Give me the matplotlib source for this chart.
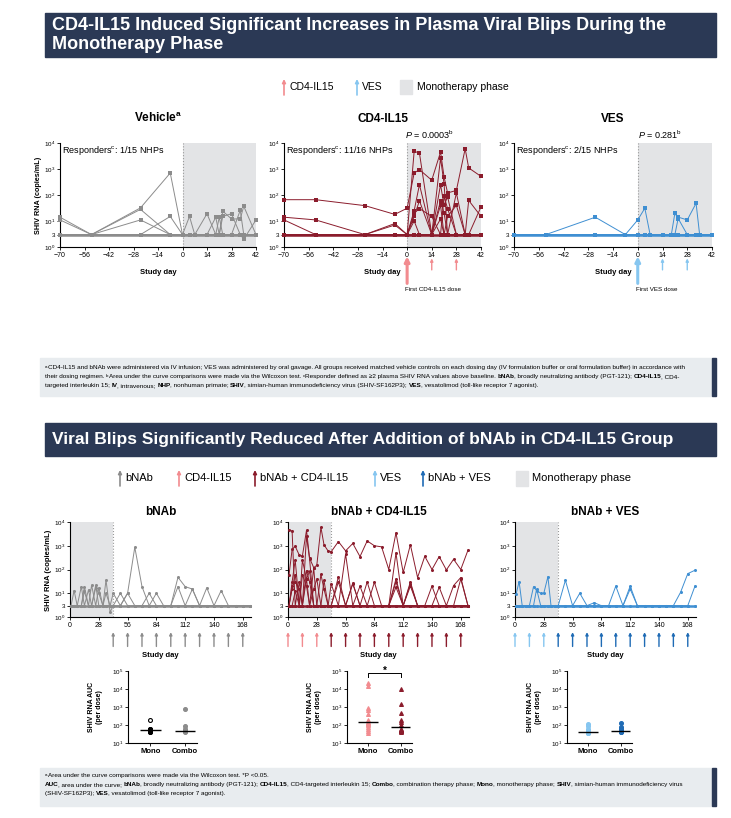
import numpy as np
import matplotlib
matplotlib.use("Agg")
import matplotlib.pyplot as plt
from matplotlib.patches import Rectangle
from matplotlib import font_manager
from matplotlib.ticker import NullLocator

# ---------------- data ----------------
# top row: study days and viral load per animal (copies/mL, 3 = limit)
top_days = [-70, -52, -24, -7, 0, 4, 7, 14, 19, 21, 23, 28, 33, 35, 42]

vehicle_vl = [
    [14, 3, 32, 700, 3, 3, 3, 3, 3, 3, 3, 3, 3, 3, 3],
    [11, 3, 28, 3, 3, 3, 3, 3, 3, 3, 3, 3, 3, 3, 3],
    [3, 3, 11, 3, 3, 3, 3, 3, 3, 3, 3, 3, 3, 3, 3],
    [3, 3, 3, 15, 3, 15, 3, 3, 3, 3, 3, 3, 3, 3, 3],
    [3, 3, 3, 3, 3, 3, 3, 19, 3, 3, 24, 12, 12, 37, 3],
    [3, 3, 3, 3, 3, 3, 3, 3, 14, 3, 15, 19, 3, 2, 11],
    [3, 3, 3, 3, 3, 3, 3, 3, 3, 14, 3, 3, 26, 3, 3],
    [3, 3, 3, 3, 3, 3, 3, 3, 3, 3, 3, 3, 3, 3, 3],
]
cd4_vl = [
    [66, 66, 39, 18, 31, 700, 950, 370, 4500, 500, 120, 150, 6000, 1100, 520],
    [14, 11, 3, 8, 3, 4800, 4100, 3, 2600, 270, 3, 3, 3, 3, 3],
    [11, 3, 3, 7, 3, 25, 250, 3, 250, 40, 85, 3, 3, 62, 15],
    [3, 3, 3, 3, 3, 15, 60, 3, 60, 20, 3, 120, 3, 3, 35],
    [3, 3, 3, 3, 3, 20, 30, 15, 3, 90, 30, 3, 3, 3, 3],
    [3, 3, 3, 3, 3, 10, 3, 3, 40, 3, 15, 40, 3, 3, 3],
    [3, 3, 3, 3, 3, 3, 3, 3, 12, 3, 3, 3, 3, 3, 3],
    [3, 3, 3, 3, 3, 3, 3, 3, 3, 3, 3, 3, 3, 3, 3],
]
ves_vl = [
    [3, 3, 14, 3, 11, 31, 3, 3, 3, 3, 3, 3, 3, 3, 3],
    [3, 3, 3, 3, 3, 3, 3, 3, 3, 20, 12, 3, 3, 3, 3],
    [3, 3, 3, 3, 3, 3, 3, 3, 3, 3, 14, 11, 48, 3, 3],
    [3, 3, 3, 3, 3, 3, 3, 3, 3, 3, 3, 3, 3, 3, 3],
]

# bottom row
bot_days = [1, 4, 7, 11, 14, 18, 21, 25, 28, 32, 35, 39, 42,
            49, 56, 63, 70, 77, 84, 91, 98, 105, 112, 119, 126, 133,
            140, 147, 154, 161, 168, 175]

bnab_vl = [
    [3, 13, 3, 3, 19, 3, 3, 22, 3, 3, 36, 1.6, 3,
     3, 10, 870, 19, 3, 3, 3, 3, 3, 3, 3, 3, 3, 3, 3, 3, 3, 3, 3],
    [3, 3, 3, 19, 3, 14, 3, 17, 10, 3, 10, 3, 10,
     3, 10, 3, 3, 10, 3, 3, 3, 47, 19, 15, 3, 3, 3, 3, 3, 3, 3, 3],
    [3, 3, 3, 3, 12, 3, 22, 3, 17, 3, 3, 3, 3,
     10, 3, 3, 3, 3, 10, 3, 3, 19, 3, 15, 3, 17, 3, 13, 3, 3, 3, 3],
    [3] * 32,
]
bnab_cd4_vl = [
    [60, 700, 950, 400, 370, 4500, 300, 120, 150, 6000, 1100, 600, 560,
     1500, 610, 1250, 350, 1600, 1000, 900, 100, 3500, 75, 1100, 46, 360,
     100, 350, 96, 270, 100, 650],
    [4800, 4100, 3, 30, 3, 2600, 270, 3, 3, 3, 3, 3, 3,
     30, 3, 25, 3, 30, 3, 3, 3, 30, 3, 30, 3, 3, 3, 3, 3, 3, 3, 3],
    [3, 30, 250, 3, 250, 40, 85, 3, 3, 62, 15, 3, 3,
     3, 450, 3, 3, 3, 3, 3, 3, 500, 3, 3, 3, 3, 3, 3, 3, 3, 40, 3],
    [3, 15, 60, 3, 60, 20, 3, 120, 3, 3, 35, 3, 25,
     3, 3, 3, 20, 3, 3, 3, 3, 40, 3, 25, 3, 3, 3, 3, 3, 3, 3, 3],
    [3, 20, 30, 15, 3, 90, 30, 3, 3, 3, 3, 3, 3,
     3, 3, 3, 3, 3, 3, 3, 3, 3, 3, 3, 3, 3, 3, 18, 3, 21, 46, 3],
    [3, 3, 12, 3, 3, 40, 3, 15, 40, 3, 3, 3, 3,
     50, 3, 27, 3, 3, 29, 3, 3, 18, 3, 20, 3, 3, 20, 3, 3, 3, 3, 3],
    [3] * 32,
]
bnab_ves_vl = [
    [9, 31, 3, 3, 3, 19, 13, 10, 10, 50, 3, 3, 3,
     35, 3, 10, 3, 4, 3, 3, 20, 3, 20, 3, 3, 3, 3, 3, 3, 11, 67, 93],
    [3, 3, 3, 3, 3, 3, 15, 3, 3, 3, 3, 3, 3,
     3, 3, 3, 3, 3, 3, 3, 3, 3, 15, 3, 3, 3, 3, 3, 3, 3, 3, 20],
    [3] * 32,
]

# AUC per dose
auc_bnab_mono = [200, 62, 58, 55, 52, 50, 48, 46, 44, 42, 40]
auc_bnab_combo = [750, 90, 60, 48, 46, 44, 42]
auc_cd4_mono = [22000, 14500, 830, 660, 430, 185, 150, 135, 120, 97, 78, 63, 47, 36]
auc_cd4_combo = [9500, 1400, 490, 185, 150, 97, 63, 55, 51, 48, 45, 43]
auc_ves_mono = [120, 90, 60, 45, 42, 40, 38, 38, 37]
auc_ves_combo = [130, 80, 60, 55, 48, 45, 44, 42, 41]

# dosing days
top_dose_days = [0, 14, 28]
mono_dose_days = [0, 14, 28]
combo_dose_days = [42, 56, 70, 84, 98, 112, 126, 140, 154, 168]

# ---------------- style ----------------
names = {f.name for f in font_manager.fontManager.ttflist}
FOOT = "Liberation Sans Narrow" if "Liberation Sans Narrow" in names else "Liberation Sans"
plt.rcParams["font.family"] = ["Liberation Sans", "DejaVu Sans"]
plt.rcParams["mathtext.fontset"] = "custom"
plt.rcParams["mathtext.rm"] = "Liberation Sans"
plt.rcParams["mathtext.it"] = "Liberation Sans:italic"
plt.rcParams["mathtext.bf"] = "Liberation Sans:bold"

NAVY = "#2b3955"
GRAY = "#8c8c8c"
MAROON = "#8b1c2c"
PINK = "#f28b8f"
VESC = "#3f8fd2"
LBLUE = "#86c6f0"
DBLUE = "#1f6bb5"
SHADE = "#e3e4e6"
FOOTBG = "#e8ecef"

W, H = 731, 818
fig = plt.figure(figsize=(W / 100, H / 100), dpi=100)
renderer = fig.canvas.get_renderer()


def box(x0, y0, x1, y1):
    return [x0 / W, 1 - y1 / H, (x1 - x0) / W, (y1 - y0) / H]


def fx(x):
    return x / W


def fy(y):
    return 1 - y / H


def banner(y0, y1, x_text, lines, size):
    fig.patches.append(Rectangle((fx(45), fy(y1)), fx(716) - fx(45), (y1 - y0) / H,
                                 transform=fig.transFigure, color=NAVY, zorder=0))
    fig.text(fx(x_text), fy((y0 + y1) / 2), lines, color="white", fontsize=size,
             fontweight="bold", va="center", ha="left", linespacing=1.2)


def fig_arrow(x, y0, y1, color, lw=1.2, ms=5):
    fig.add_artist(matplotlib.patches.FancyArrowPatch(
        (fx(x), fy(y0)), (fx(x), fy(y1)), transform=fig.transFigure,
        arrowstyle="-|>", mutation_scale=ms, color=color, lw=lw,
        shrinkA=0, shrinkB=0))


def text_width(s, size, weight):
    t = fig.text(0, 0, "|" + s + "|", fontsize=size, fontweight=weight, family=FOOT)
    w1 = t.get_window_extent(renderer).width
    t.set_text("||")
    w0 = t.get_window_extent(renderer).width
    t.remove()
    return w1 - w0


def rich_line(x, y, parts, size):
    for s, kind in parts:
        if kind == "sup":
            fig.text(fx(x), fy(y) + 1.2 / H, s, fontsize=size * 0.7, family=FOOT,
                     va="baseline")
            x += text_width(s, size * 0.7, "normal")
        else:
            wt = "bold" if kind == "b" else "normal"
            fig.text(fx(x), fy(y), s, fontsize=size, fontweight=wt, family=FOOT,
                     va="baseline")
            x += text_width(s, size, wt) - (0.6 if wt == "bold" else 0)


def fit_size(parts, width):
    w = 0
    for s, kind in parts:
        w += text_width(s, 5 * (0.7 if kind == "sup" else 1),
                        "bold" if kind == "b" else "normal")
    return 5 * width / w


def foot_box(y0, y1):
    fig.patches.append(Rectangle((fx(40), fy(y1)), fx(712) - fx(40), (y1 - y0) / H,
                                 transform=fig.transFigure, color=FOOTBG, zorder=0))
    fig.patches.append(Rectangle((fx(712), fy(y1)), fx(716) - fx(712), (y1 - y0) / H,
                                 transform=fig.transFigure, color=NAVY, zorder=0))


def vl_axes(rect, xlim, xticks, shade_line):
    ax = fig.add_axes(box(*rect))
    ax.set_yscale("log")
    ax.set_ylim(1, 1e4)
    ax.set_xlim(*xlim)
    ax.axvspan(0, 42, color=SHADE, zorder=0, lw=0)
    ax.axvline(shade_line, color="#9a9a9a", ls=":", lw=0.8, zorder=1)
    ax.set_yticks([1, 3, 10, 100, 1000, 10000])
    ax.set_yticklabels([r"$10^0$", "3", r"$10^1$", r"$10^2$", r"$10^3$", r"$10^4$"])
    ax.yaxis.set_minor_locator(NullLocator())
    ax.set_xticks(xticks)
    ax.tick_params(labelsize=5, length=2.5, width=0.6, pad=1.2)
    ax.tick_params(axis="y", labelsize=4.5, pad=1)
    for sp in ["top", "right"]:
        ax.spines[sp].set_visible(False)
    for sp in ["left", "bottom"]:
        ax.spines[sp].set_linewidth(0.8)
    return ax


def draw_group(ax, days, series, color, marker):
    for vals in series:
        flat = all(v == 3 for v in vals)
        ax.plot(days, vals, "-", marker=marker, color=color, lw=1.8 if flat else 0.7,
                ms=2.2, mew=0, clip_on=False, zorder=3)


def dose_arrow(ax, day, color, y0, y1, lw=1.2, ms=5):
    ax.annotate("", xy=(day, y1), xytext=(day, y0), xycoords=ax.get_xaxis_transform(),
                textcoords=ax.get_xaxis_transform(), annotation_clip=False,
                arrowprops=dict(arrowstyle="-|>", color=color, lw=lw, mutation_scale=ms,
                                shrinkA=0, shrinkB=0))


# ---------------- banner 1 + legend ----------------
banner(13, 57, 52, "CD4-IL15 Induced Significant Increases in Plasma Viral Blips During the\nMonotherapy Phase", 13)

fig_arrow(284, 95, 79, PINK)
fig.text(fx(289), fy(87), "CD4-IL15", fontsize=7.5, va="center")
fig_arrow(357, 95, 79, LBLUE)
fig.text(fx(362), fy(87), "VES", fontsize=7.5, va="center")
fig.patches.append(Rectangle((fx(400), fy(94)), 12 / W, 14 / H, transform=fig.transFigure,
                             color=SHADE))
fig.text(fx(417), fy(87), "Monotherapy phase", fontsize=7.5, va="center")

# ---------------- top panels ----------------
top_ticks = [-70, -56, -42, -28, -14, 0, 14, 28, 42]
ax1 = vl_axes((60, 143, 256, 247), (-70, 42), top_ticks, 0)
draw_group(ax1, top_days, vehicle_vl, GRAY, "s")
ax2 = vl_axes((284, 143, 481, 247), (-70, 42), top_ticks, 0)
draw_group(ax2, top_days, cd4_vl, MAROON, "s")
ax3 = vl_axes((514, 143, 712, 247), (-70, 42), top_ticks, 0)
draw_group(ax3, top_days, ves_vl, VESC, "s")

titles = [r"Vehicle$^{\bf a}$", "CD4-IL15", "VES"]
resp = ["1/15", "11/16", "2/15"]
for ax, t, r in zip([ax1, ax2, ax3], titles, resp):
    ax.set_title(t, fontsize=8.5, fontweight="bold", pad=15)
    ax.text(0.01, 0.93, r"Responders$^{\rm c}$: " + r + " NHPs", transform=ax.transAxes,
            fontsize=6.5, va="center", ha="left")
    ax.text(0.5, -0.25, "Study day", transform=ax.transAxes, ha="center", va="center",
            fontsize=5.5, fontweight="bold")

ax2.text(0.74, 1.08, r"$P$ = 0.0003$^{\rm b}$", transform=ax2.transAxes, fontsize=6.5,
         ha="center", va="center")
ax3.text(0.74, 1.08, r"$P$ = 0.281$^{\rm b}$", transform=ax3.transAxes, fontsize=6.5,
         ha="center", va="center")

for ax, c, label in [(ax2, PINK, "First CD4-IL15 dose"), (ax3, LBLUE, "First VES dose")]:
    for i, d in enumerate(top_dose_days):
        if i == 0:
            dose_arrow(ax, d, c, -0.35, -0.09, lw=2.2, ms=7)
        else:
            dose_arrow(ax, d, c, -0.22, -0.11, lw=1.0, ms=4)
    ax.text(-1, -0.41, label, transform=ax.get_xaxis_transform(), fontsize=4.5,
            ha="left", va="center")

fig.text(fx(39), fy(195), "SHIV RNA (copies/mL)", rotation=90, fontsize=5.2,
         fontweight="bold", ha="center", va="center")

# ---------------- footnote 1 ----------------
foot1 = [
    [("a", "sup"), ("CD4-IL15 and bNAb were administered via IV infusion; VES was administered by oral gavage. All groups received matched vehicle controls on each dosing day (IV formulation buffer or oral formulation buffer) in accordance with", "n")],
    [("their dosing regimen. ", "n"), ("b", "sup"), ("Area under the curve comparisons were made via the Wilcoxon test. ", "n"),
     ("c", "sup"), ("Responder defined as \u22652 plasma SHIV RNA values above baseline. ", "n"),
     ("bNAb", "b"), (", broadly neutralizing antibody (PGT-121); ", "n"), ("CD4-IL15", "b"), (", CD4-", "n")],
    [("targeted interleukin 15; ", "n"), ("IV", "b"), (", intravenous; ", "n"), ("NHP", "b"),
     (", nonhuman primate; ", "n"), ("SHIV", "b"), (", simian-human immunodeficiency virus (SHIV-SF162P3); ", "n"),
     ("VES", "b"), (", vesatolimod (toll-like receptor 7 agonist).", "n")],
]
foot_box(358, 396)
s1 = fit_size(foot1[0], 655)
for parts, y in zip(foot1, [369, 378, 387]):
    rich_line(45, y, parts, s1)

# ---------------- banner 2 + legend ----------------
banner(423, 456, 52, "Viral Blips Significantly Reduced After Addition of bNAb in CD4-IL15 Group", 12.5)

leg2 = [(120, GRAY, "bNAb"), (179, PINK, "CD4-IL15"), (255, MAROON, "bNAb + CD4-IL15"),
        (375, LBLUE, "VES"), (423, DBLUE, "bNAb + VES")]
for x, c, s in leg2:
    fig_arrow(x, 486, 470, c)
    fig.text(fx(x + 5), fy(478), s, fontsize=8, va="center")
fig.patches.append(Rectangle((fx(516), fy(486)), 12 / W, 15 / H, transform=fig.transFigure,
                             color=SHADE))
fig.text(fx(532), fy(478), "Monotherapy phase", fontsize=8, va="center")

# ---------------- bottom panels ----------------
bot_ticks = [0, 28, 56, 84, 112, 140, 168]
bx1 = vl_axes((70, 522, 251, 617), (0, 176), bot_ticks, 42)
draw_group(bx1, bot_days, bnab_vl, GRAY, "o")
bx2 = vl_axes((288, 522, 469, 617), (0, 176), bot_ticks, 42)
draw_group(bx2, bot_days, bnab_cd4_vl, MAROON, "o")
bx3 = vl_axes((515, 522, 696, 617), (0, 176), bot_ticks, 42)
draw_group(bx3, bot_days, bnab_ves_vl, VESC, "o")

for ax, t in zip([bx1, bx2, bx3], ["bNAb", "bNAb + CD4-IL15", "bNAb + VES"]):
    ax.set_title(t, fontsize=8.5, fontweight="bold", pad=5)
    ax.text(0.5, -0.41, "Study day", transform=ax.transAxes, ha="center", va="center",
            fontsize=5.5, fontweight="bold")

for d in combo_dose_days:
    dose_arrow(bx1, d, GRAY, -0.31, -0.16, lw=1.0, ms=4)
for ax, c1, c2 in [(bx2, PINK, MAROON), (bx3, LBLUE, DBLUE)]:
    for d in mono_dose_days:
        dose_arrow(ax, d, c1, -0.31, -0.16, lw=1.0, ms=4)
    for d in combo_dose_days:
        dose_arrow(ax, d, c2, -0.31, -0.16, lw=1.0, ms=4)

fig.text(fx(48), fy(570), "SHIV RNA (copies/mL)", rotation=90, fontsize=5.5,
         fontweight="bold", ha="center", va="center")

# ---------------- AUC panels ----------------
auc_sets = [
    ((128, 671, 197, 743), auc_bnab_mono, auc_bnab_combo, ("k", "o", True), (GRAY, "o", False)),
    ((347, 671, 412, 743), auc_cd4_mono, auc_cd4_combo, (PINK, "^", False), (MAROON, "^", False)),
    ((567, 671, 632, 743), auc_ves_mono, auc_ves_combo, (LBLUE, "o", False), (DBLUE, "o", False)),
]
auc_axes = []
for rect, mono, combo, st1, st2 in auc_sets:
    ax = fig.add_axes(box(*rect))
    ax.set_yscale("log")
    ax.set_ylim(10, 1e5)
    ax.set_xlim(-0.65, 1.35)
    for xpos, vals, (c, m, hollow) in [(0, mono, st1), (1, combo, st2)]:
        ax.plot([xpos] * len(vals), vals, ls="none", marker=m, ms=2.8,
                mfc="none" if hollow else c, mec=c, mew=0.8, clip_on=False, zorder=3)
        ax.hlines(np.median(vals), xpos - 0.3, xpos + 0.3, color="k", lw=1, zorder=4)
    ax.set_yticks([10, 100, 1000, 1e4, 1e5])
    ax.set_yticklabels([r"$10^1$", r"$10^2$", r"$10^3$", r"$10^4$", r"$10^5$"])
    ax.yaxis.set_minor_locator(NullLocator())
    ax.set_xticks([0, 1])
    ax.set_xticklabels(["Mono", "Combo"], fontweight="bold")
    ax.tick_params(labelsize=4.5, length=2.5, width=0.6, pad=1.2)
    ax.tick_params(axis="x", labelsize=5.5)
    for sp in ["top", "right"]:
        ax.spines[sp].set_visible(False)
    for sp in ["left", "bottom"]:
        ax.spines[sp].set_linewidth(0.8)
    ax.set_ylabel("SHIV RNA AUC\n(per dose)", fontsize=5, fontweight="bold", labelpad=6)
    auc_axes.append(ax)

axm = auc_axes[1]
axm.plot([0, 0, 1, 1], [4.5e4, 7.5e4, 7.5e4, 4.5e4], color="k", lw=0.7, clip_on=False)
axm.text(0.5, 1.05e5, "*", ha="center", va="center", fontsize=7, fontweight="bold")

# ---------------- footnote 2 ----------------
foot2 = [
    [("a", "sup"), ("Area under the curve comparisons were made via the Wilcoxon test. *P <0.05.", "n")],
    [("AUC", "b"), (", area under the curve; ", "n"), ("bNAb", "b"), (", broadly neutralizing antibody (PGT-121); ", "n"),
     ("CD4-IL15", "b"), (", CD4-targeted interleukin 15; ", "n"), ("Combo", "b"), (", combination therapy phase; ", "n"),
     ("Mono", "b"), (", monotherapy phase; ", "n"), ("SHIV", "b"), (", simian-human immunodeficiency virus", "n")],
    [("(SHIV-SF162P3); ", "n"), ("VES", "b"), (", vesatolimod (toll-like receptor 7 agonist).", "n")],
]
foot_box(768, 806)
s2 = fit_size(foot2[1], 655)
for parts, y in zip(foot2, [777, 786, 795]):
    rich_line(45, y, parts, s2)

fig.savefig("out.png", dpi=100)
